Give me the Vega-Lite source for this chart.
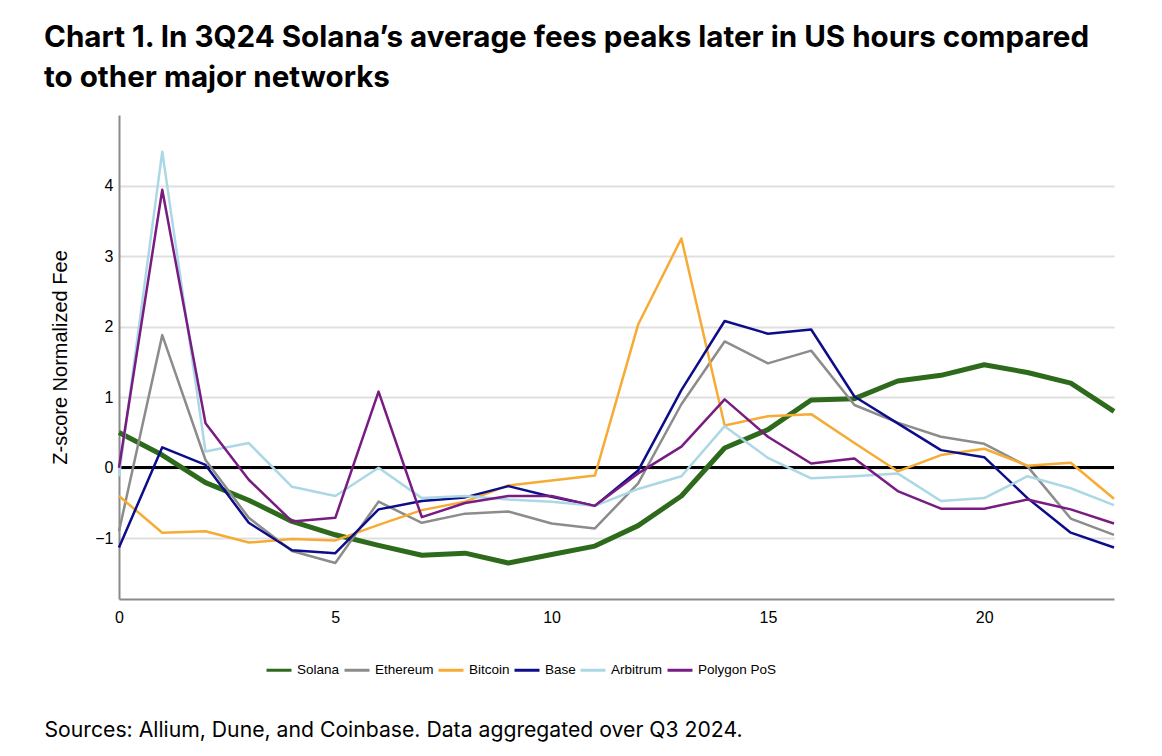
{
  "$schema": "https://vega.github.io/schema/vega-lite/v6.json",
  "width": 995,
  "height": 484,
  "autosize": "none",
  "padding": {"left": 119, "top": 115, "right": 48, "bottom": 157},
  "background": "white",
  "config": {
    "view": {"stroke": null},
    "font": "Liberation Sans"
  },
  "title": {
    "text": ["Chart 1. In 3Q24 Solana’s average fees peaks later in US hours compared", "to other major networks"],
    "font": "Inter",
    "fontSize": 29.6,
    "fontWeight": 700,
    "color": "#000000",
    "anchor": "start",
    "frame": "group",
    "dx": -75,
    "offset": 21,
    "lineHeight": 40
  },
  "data": {
    "values": [
      {"hour": 0, "network": "Solana", "z": 0.50}, {"hour": 1, "network": "Solana", "z": 0.18}, {"hour": 2, "network": "Solana", "z": -0.21}, {"hour": 3, "network": "Solana", "z": -0.46}, {"hour": 4, "network": "Solana", "z": -0.76}, {"hour": 5, "network": "Solana", "z": -0.95}, {"hour": 6, "network": "Solana", "z": -1.10}, {"hour": 7, "network": "Solana", "z": -1.24}, {"hour": 8, "network": "Solana", "z": -1.21}, {"hour": 9, "network": "Solana", "z": -1.35}, {"hour": 10, "network": "Solana", "z": -1.23}, {"hour": 11, "network": "Solana", "z": -1.11}, {"hour": 12, "network": "Solana", "z": -0.82}, {"hour": 13, "network": "Solana", "z": -0.40}, {"hour": 14, "network": "Solana", "z": 0.28}, {"hour": 15, "network": "Solana", "z": 0.54}, {"hour": 16, "network": "Solana", "z": 0.96}, {"hour": 17, "network": "Solana", "z": 0.98}, {"hour": 18, "network": "Solana", "z": 1.23}, {"hour": 19, "network": "Solana", "z": 1.31}, {"hour": 20, "network": "Solana", "z": 1.46}, {"hour": 21, "network": "Solana", "z": 1.35}, {"hour": 22, "network": "Solana", "z": 1.20}, {"hour": 23, "network": "Solana", "z": 0.80},
      {"hour": 0, "network": "Ethereum", "z": -0.90}, {"hour": 1, "network": "Ethereum", "z": 1.88}, {"hour": 2, "network": "Ethereum", "z": 0.11}, {"hour": 3, "network": "Ethereum", "z": -0.71}, {"hour": 4, "network": "Ethereum", "z": -1.18}, {"hour": 5, "network": "Ethereum", "z": -1.35}, {"hour": 6, "network": "Ethereum", "z": -0.48}, {"hour": 7, "network": "Ethereum", "z": -0.78}, {"hour": 8, "network": "Ethereum", "z": -0.65}, {"hour": 9, "network": "Ethereum", "z": -0.62}, {"hour": 10, "network": "Ethereum", "z": -0.79}, {"hour": 11, "network": "Ethereum", "z": -0.86}, {"hour": 12, "network": "Ethereum", "z": -0.22}, {"hour": 13, "network": "Ethereum", "z": 0.90}, {"hour": 14, "network": "Ethereum", "z": 1.79}, {"hour": 15, "network": "Ethereum", "z": 1.48}, {"hour": 16, "network": "Ethereum", "z": 1.66}, {"hour": 17, "network": "Ethereum", "z": 0.89}, {"hour": 18, "network": "Ethereum", "z": 0.64}, {"hour": 19, "network": "Ethereum", "z": 0.44}, {"hour": 20, "network": "Ethereum", "z": 0.34}, {"hour": 21, "network": "Ethereum", "z": 0.02}, {"hour": 22, "network": "Ethereum", "z": -0.72}, {"hour": 23, "network": "Ethereum", "z": -0.95},
      {"hour": 0, "network": "Bitcoin", "z": -0.40}, {"hour": 1, "network": "Bitcoin", "z": -0.92}, {"hour": 2, "network": "Bitcoin", "z": -0.90}, {"hour": 3, "network": "Bitcoin", "z": -1.06}, {"hour": 4, "network": "Bitcoin", "z": -1.01}, {"hour": 5, "network": "Bitcoin", "z": -1.03}, {"hour": 6, "network": "Bitcoin", "z": -0.81}, {"hour": 7, "network": "Bitcoin", "z": -0.60}, {"hour": 8, "network": "Bitcoin", "z": -0.48}, {"hour": 9, "network": "Bitcoin", "z": -0.25}, {"hour": 10, "network": "Bitcoin", "z": -0.18}, {"hour": 11, "network": "Bitcoin", "z": -0.11}, {"hour": 12, "network": "Bitcoin", "z": 2.03}, {"hour": 13, "network": "Bitcoin", "z": 3.25}, {"hour": 14, "network": "Bitcoin", "z": 0.60}, {"hour": 15, "network": "Bitcoin", "z": 0.73}, {"hour": 16, "network": "Bitcoin", "z": 0.76}, {"hour": 17, "network": "Bitcoin", "z": 0.35}, {"hour": 18, "network": "Bitcoin", "z": -0.05}, {"hour": 19, "network": "Bitcoin", "z": 0.18}, {"hour": 20, "network": "Bitcoin", "z": 0.27}, {"hour": 21, "network": "Bitcoin", "z": 0.03}, {"hour": 22, "network": "Bitcoin", "z": 0.07}, {"hour": 23, "network": "Bitcoin", "z": -0.44},
      {"hour": 0, "network": "Base", "z": -1.13}, {"hour": 1, "network": "Base", "z": 0.29}, {"hour": 2, "network": "Base", "z": 0.04}, {"hour": 3, "network": "Base", "z": -0.78}, {"hour": 4, "network": "Base", "z": -1.17}, {"hour": 5, "network": "Base", "z": -1.21}, {"hour": 6, "network": "Base", "z": -0.59}, {"hour": 7, "network": "Base", "z": -0.47}, {"hour": 8, "network": "Base", "z": -0.42}, {"hour": 9, "network": "Base", "z": -0.26}, {"hour": 10, "network": "Base", "z": -0.41}, {"hour": 11, "network": "Base", "z": -0.54}, {"hour": 12, "network": "Base", "z": -0.04}, {"hour": 13, "network": "Base", "z": 1.10}, {"hour": 14, "network": "Base", "z": 2.08}, {"hour": 15, "network": "Base", "z": 1.90}, {"hour": 16, "network": "Base", "z": 1.96}, {"hour": 17, "network": "Base", "z": 1.01}, {"hour": 18, "network": "Base", "z": 0.63}, {"hour": 19, "network": "Base", "z": 0.25}, {"hour": 20, "network": "Base", "z": 0.15}, {"hour": 21, "network": "Base", "z": -0.43}, {"hour": 22, "network": "Base", "z": -0.92}, {"hour": 23, "network": "Base", "z": -1.13},
      {"hour": 0, "network": "Arbitrum", "z": -0.12}, {"hour": 1, "network": "Arbitrum", "z": 4.48}, {"hour": 2, "network": "Arbitrum", "z": 0.23}, {"hour": 3, "network": "Arbitrum", "z": 0.35}, {"hour": 4, "network": "Arbitrum", "z": -0.27}, {"hour": 5, "network": "Arbitrum", "z": -0.40}, {"hour": 6, "network": "Arbitrum", "z": 0.00}, {"hour": 7, "network": "Arbitrum", "z": -0.43}, {"hour": 8, "network": "Arbitrum", "z": -0.40}, {"hour": 9, "network": "Arbitrum", "z": -0.45}, {"hour": 10, "network": "Arbitrum", "z": -0.48}, {"hour": 11, "network": "Arbitrum", "z": -0.54}, {"hour": 12, "network": "Arbitrum", "z": -0.30}, {"hour": 13, "network": "Arbitrum", "z": -0.12}, {"hour": 14, "network": "Arbitrum", "z": 0.59}, {"hour": 15, "network": "Arbitrum", "z": 0.14}, {"hour": 16, "network": "Arbitrum", "z": -0.15}, {"hour": 17, "network": "Arbitrum", "z": -0.12}, {"hour": 18, "network": "Arbitrum", "z": -0.08}, {"hour": 19, "network": "Arbitrum", "z": -0.47}, {"hour": 20, "network": "Arbitrum", "z": -0.43}, {"hour": 21, "network": "Arbitrum", "z": -0.12}, {"hour": 22, "network": "Arbitrum", "z": -0.29}, {"hour": 23, "network": "Arbitrum", "z": -0.53},
      {"hour": 0, "network": "Polygon PoS", "z": 0.00}, {"hour": 1, "network": "Polygon PoS", "z": 3.94}, {"hour": 2, "network": "Polygon PoS", "z": 0.63}, {"hour": 3, "network": "Polygon PoS", "z": -0.17}, {"hour": 4, "network": "Polygon PoS", "z": -0.76}, {"hour": 5, "network": "Polygon PoS", "z": -0.71}, {"hour": 6, "network": "Polygon PoS", "z": 1.08}, {"hour": 7, "network": "Polygon PoS", "z": -0.70}, {"hour": 8, "network": "Polygon PoS", "z": -0.50}, {"hour": 9, "network": "Polygon PoS", "z": -0.40}, {"hour": 10, "network": "Polygon PoS", "z": -0.40}, {"hour": 11, "network": "Polygon PoS", "z": -0.54}, {"hour": 12, "network": "Polygon PoS", "z": -0.08}, {"hour": 13, "network": "Polygon PoS", "z": 0.30}, {"hour": 14, "network": "Polygon PoS", "z": 0.97}, {"hour": 15, "network": "Polygon PoS", "z": 0.44}, {"hour": 16, "network": "Polygon PoS", "z": 0.06}, {"hour": 17, "network": "Polygon PoS", "z": 0.13}, {"hour": 18, "network": "Polygon PoS", "z": -0.33}, {"hour": 19, "network": "Polygon PoS", "z": -0.58}, {"hour": 20, "network": "Polygon PoS", "z": -0.58}, {"hour": 21, "network": "Polygon PoS", "z": -0.45}, {"hour": 22, "network": "Polygon PoS", "z": -0.59}, {"hour": 23, "network": "Polygon PoS", "z": -0.79}
    ]
  },
  "encoding": {
    "x": {
      "field": "hour",
      "type": "quantitative",
      "scale": {"domain": [0, 23], "nice": false, "zero": false},
      "axis": {
        "values": [0, 5, 10, 15, 20],
        "grid": false,
        "ticks": false,
        "labelFlush": false,
        "domainColor": "#8a8a8a",
        "domainWidth": 2,
        "labelFont": "Liberation Sans",
        "labelFontSize": 16,
        "labelColor": "#000000",
        "labelPadding": 10,
        "title": "Sources: Allium, Dune, and Coinbase. Data aggregated over Q3 2024.",
        "titleFont": "Inter",
        "titleFontSize": 21.2,
        "titleFontWeight": 400,
        "titleColor": "#000000",
        "titleAnchor": "start",
        "titleAlign": "left",
        "titleBaseline": "alphabetic",
        "titleX": -75,
        "titleY": 137
      }
    },
    "y": {
      "field": "z",
      "type": "quantitative",
      "scale": {"domain": [-1.86, 5], "nice": false, "zero": false},
      "axis": {
        "values": [-1, 0, 1, 2, 3, 4],
        "grid": true,
        "gridColor": "#e0e0e0",
        "gridWidth": 2,
        "ticks": false,
        "domainColor": "#8a8a8a",
        "domainWidth": 2,
        "labelFont": "Liberation Sans",
        "labelFontSize": 16,
        "labelColor": "#000000",
        "labelPadding": 6,
        "title": "Z-score Normalized Fee",
        "titleFont": "Liberation Sans",
        "titleFontSize": 20,
        "titleFontWeight": 400,
        "titleColor": "#000000",
        "titlePadding": 24
      }
    }
  },
  "layer": [
    {
      "mark": {"type": "rule", "color": "#000000", "strokeWidth": 2},
      "encoding": {"y": {"datum": 0}, "x": {"value": 0}, "x2": {"value": 995}}
    },
    {
      "mark": {"type": "line", "strokeJoin": "round"},
      "encoding": {
        "color": {
          "field": "network",
          "type": "nominal",
          "sort": null,
          "scale": {
            "domain": ["Solana", "Ethereum", "Bitcoin", "Base", "Arbitrum", "Polygon PoS"],
            "range": ["#2e6a1c", "#8c8c8c", "#f6ab35", "#0d0d8a", "#acd8e6", "#781c82"]
          },
          "legend": {
            "orient": "none",
            "legendX": 146,
            "legendY": 541,
            "direction": "horizontal",
            "title": null,
            "symbolType": "stroke",
            "symbolSize": 625,
            "symbolStrokeWidth": 3,
            "labelFont": "Liberation Sans",
            "labelFontSize": 13.5,
            "labelColor": "#000000",
            "labelOffset": 4,
            "columnPadding": -2
          }
        },
        "strokeWidth": {
          "condition": {"test": "datum.network === 'Solana'", "value": 5},
          "value": 2.5
        },
        "order": {"field": "hour", "type": "quantitative"}
      }
    }
  ]
}
